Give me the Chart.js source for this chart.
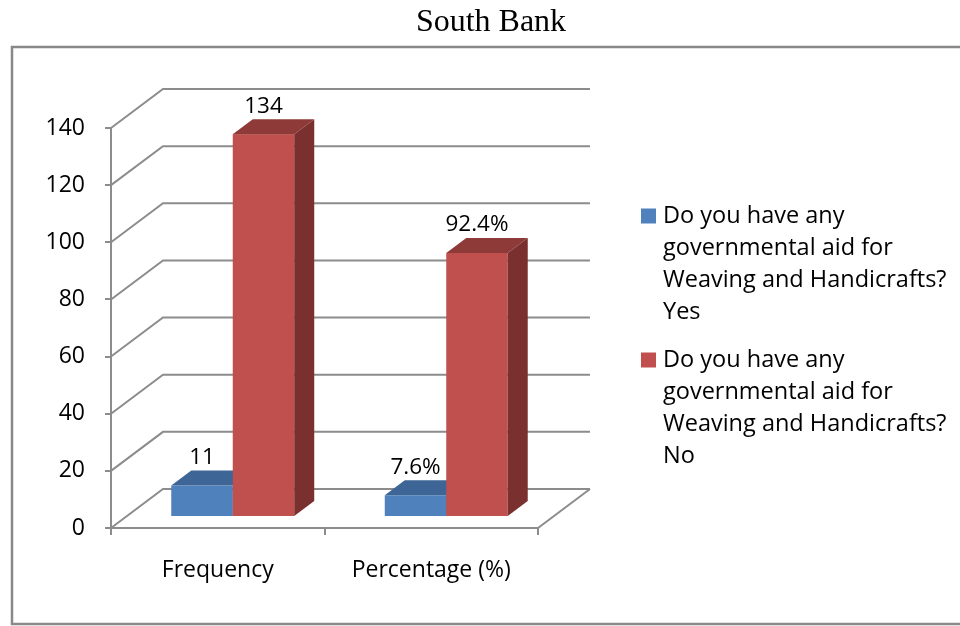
<!DOCTYPE html>
<html>
<head>
<meta charset="utf-8">
<style>
  html, body { margin: 0; padding: 0; background: #ffffff; }
  #wrap { width: 960px; height: 626px; position: relative; }
</style>
<script src="https://cdn.jsdelivr.net/npm/chart.js@4/dist/chart.umd.min.js"></script>
</head>
<body>
<div id="wrap"><canvas id="chart" width="960" height="626"></canvas></div>
<script>
// ---- data ----
const chartTitle = 'South Bank';
const categories = ['Frequency', 'Percentage (%)'];
const valueSuffix = ['', '%'];
const seriesNames = [
  'Do you have any governmental aid for Weaving and Handicrafts? Yes',
  'Do you have any governmental aid for Weaving and Handicrafts? No'
];
const yesValues = [11, 7.6];
const noValues = [134, 92.4];
const yMin = 0;
const yMax = 140;
const yStep = 20;

// ---- styling ----
const FONT = '"Open Sans", "Noto Sans", sans-serif';
const GRID = '#8c8c8c';
const faceColors = [
  { front: '#4f81bd', top: '#3d6595', side: '#345885' },
  { front: '#c0504d', top: '#8e3a38', side: '#7a302e' }
];
// depth of the box walls, and of each bar inside it (pixels)
const WALL = { dx: 52, dy: -39 };
const BAR_OFFSET = { dx: 15, dy: -11 };
const BAR_DEPTH = { dx: 20, dy: -15 };

// back wall, side wall and floor of the 3D plot box
const wallsPlugin = {
  id: 'walls3d',
  beforeDatasetsDraw(chart) {
    const { ctx, chartArea: a, scales: { y } } = chart;
    ctx.save();
    ctx.strokeStyle = GRID;
    ctx.lineWidth = 2;
    ctx.lineJoin = 'miter';
    for (let v = yMin; v <= yMax; v += yStep) {
      const py = y.getPixelForValue(v);
      ctx.beginPath();
      ctx.moveTo(a.left, py);
      ctx.lineTo(a.left + WALL.dx, py + WALL.dy);
      ctx.lineTo(a.right + WALL.dx, py + WALL.dy);
      ctx.stroke();
    }
    // right edge of the floor
    const py0 = y.getPixelForValue(yMin);
    ctx.beginPath();
    ctx.moveTo(a.right, py0);
    ctx.lineTo(a.right + WALL.dx, py0 + WALL.dy);
    ctx.stroke();
    ctx.restore();
  }
};

// bars drawn as boxes (front, top, side) from the bar elements' geometry
const bars3dPlugin = {
  id: 'bars3d',
  beforeDatasetsDraw(chart) {
    const { ctx } = chart;
    const metas = chart.data.datasets.map((d, i) => chart.getDatasetMeta(i));
    ctx.save();
    for (let c = 0; c < categories.length; c++) {
      metas.forEach((meta, di) => {
        const el = meta.data[c];
        const { x, y, base, width } = el.getProps(['x', 'y', 'base', 'width'], true);
        const col = faceColors[di];
        const l = x - width / 2 + BAR_OFFSET.dx;
        const r = x + width / 2 + BAR_OFFSET.dx;
        const t = y + BAR_OFFSET.dy;
        const b = base + BAR_OFFSET.dy;
        // front
        ctx.fillStyle = col.front;
        ctx.fillRect(l, t, r - l, b - t);
        // top
        ctx.fillStyle = col.top;
        ctx.beginPath();
        ctx.moveTo(l, t);
        ctx.lineTo(l + BAR_DEPTH.dx, t + BAR_DEPTH.dy);
        ctx.lineTo(r + BAR_DEPTH.dx, t + BAR_DEPTH.dy);
        ctx.lineTo(r, t);
        ctx.closePath();
        ctx.fill();
        // side
        ctx.fillStyle = col.side;
        ctx.beginPath();
        ctx.moveTo(r, t);
        ctx.lineTo(r + BAR_DEPTH.dx, t + BAR_DEPTH.dy);
        ctx.lineTo(r + BAR_DEPTH.dx, b + BAR_DEPTH.dy);
        ctx.lineTo(r, b);
        ctx.closePath();
        ctx.fill();
      });
    }
    // value labels above each bar
    ctx.fillStyle = '#000000';
    ctx.font = '22.5px ' + FONT;
    ctx.textAlign = 'center';
    ctx.textBaseline = 'middle';
    metas.forEach((meta, di) => {
      const values = chart.data.datasets[di].data;
      meta.data.forEach((el, c) => {
        const { x, y } = el.getProps(['x', 'y'], true);
        const cx = x + BAR_OFFSET.dx;
        const ty = y + BAR_OFFSET.dy + BAR_DEPTH.dy - 13;
        ctx.fillText(String(values[c]) + valueSuffix[c], cx, ty);
      });
    });
    ctx.restore();
    return false;
  }
};

// wrap text into lines no wider than maxWidth
function wrapText(ctx, text, maxWidth) {
  const words = text.split(' ');
  const lines = [];
  let line = '';
  words.forEach(w => {
    const test = line ? line + ' ' + w : w;
    if (line && ctx.measureText(test).width > maxWidth) {
      lines.push(line);
      line = w;
    } else {
      line = test;
    }
  });
  if (line) lines.push(line);
  return lines;
}

// title, frame and right-hand legend
const decorPlugin = {
  id: 'decor',
  afterDraw(chart) {
    const { ctx } = chart;
    ctx.save();
    // frame
    ctx.strokeStyle = '#898989';
    ctx.lineWidth = 2.5;
    ctx.strokeRect(12, 47, 980, 577);
    // title
    ctx.fillStyle = '#000000';
    ctx.font = '32px "Liberation Serif", "Times New Roman", serif';
    ctx.textAlign = 'center';
    ctx.textBaseline = 'alphabetic';
    ctx.fillText(chartTitle, 491, 31);
    // legend
    ctx.font = '23.5px ' + FONT;
    ctx.textAlign = 'left';
    ctx.textBaseline = 'middle';
    const lineH = 32;
    let cy = 216;
    chart.data.datasets.forEach((ds, i) => {
      ctx.fillStyle = faceColors[i].front;
      ctx.fillRect(641, cy - 7.5, 15, 15);
      ctx.fillStyle = '#000000';
      const lines = wrapText(ctx, ds.label, 292);
      lines.forEach((ln, k) => ctx.fillText(ln, 663, cy + k * lineH));
      cy += lines.length * lineH + 16;
    });
    ctx.restore();
  }
};

new Chart(document.getElementById('chart'), {
  type: 'bar',
  data: {
    labels: categories,
    datasets: [
      { label: seriesNames[0], data: yesValues, backgroundColor: faceColors[0].front },
      { label: seriesNames[1], data: noValues, backgroundColor: faceColors[1].front }
    ]
  },
  options: {
    responsive: false,
    animation: false,
    devicePixelRatio: 1,
    categoryPercentage: 0.576,
    barPercentage: 1.0,
    layout: { padding: { top: 128, right: 422, left: 0, bottom: 0 } },
    plugins: {
      legend: { display: false },
      title: { display: false },
      tooltip: { enabled: false }
    },
    scales: {
      x: {
        grid: { drawOnChartArea: false, drawTicks: true, tickLength: 7, color: GRID, lineWidth: 2, offset: true },
        border: { display: true, color: GRID, width: 2 },
        ticks: { color: '#000000', font: { family: FONT, size: 23 }, padding: 22, maxRotation: 0 },
        afterFit(scale) { scale.height = 98; }
      },
      y: {
        min: yMin,
        max: yMax,
        ticks: { stepSize: yStep, color: '#000000', font: { family: FONT, size: 23 }, padding: 20 },
        grid: { drawOnChartArea: false, drawTicks: true, tickLength: 6, color: GRID, lineWidth: 2 },
        border: { display: true, color: GRID, width: 2 },
        afterFit(scale) { scale.width = 111; }
      }
    }
  },
  plugins: [wallsPlugin, bars3dPlugin, decorPlugin]
});
</script>
</body>
</html>
